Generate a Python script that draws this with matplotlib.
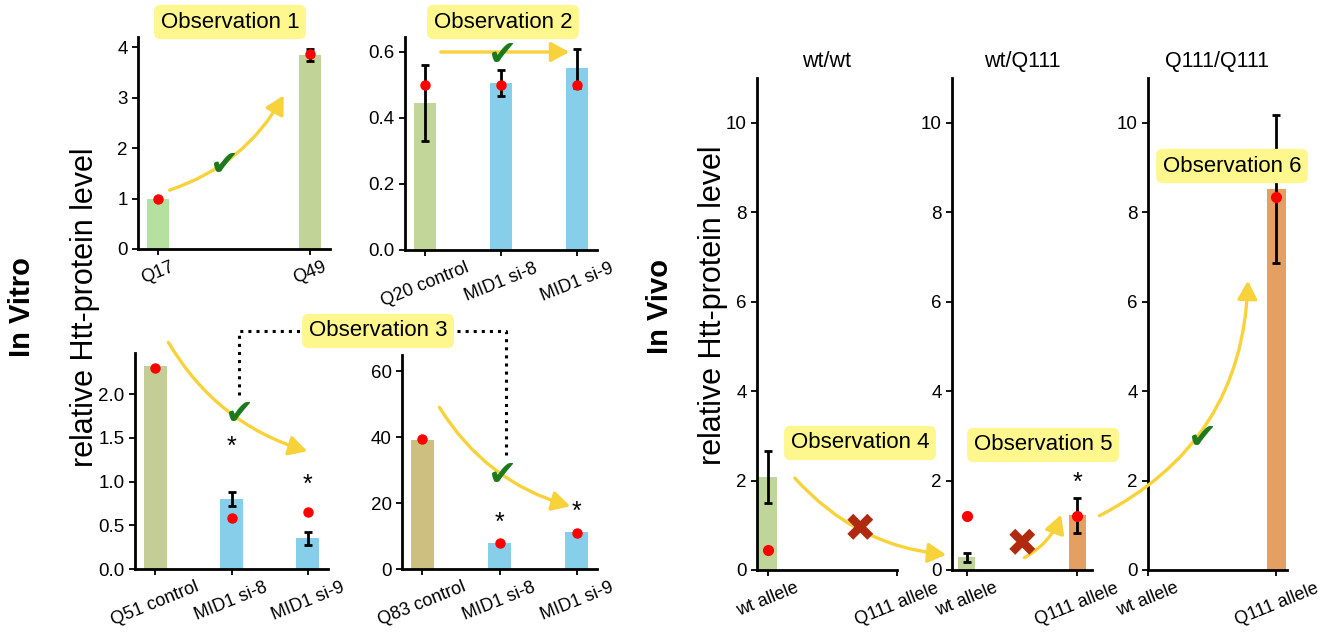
import matplotlib
matplotlib.use('Agg')
import matplotlib.pyplot as plt
from matplotlib.patches import FancyArrowPatch
from matplotlib.lines import Line2D

plt.rcParams['font.family'] = ['Liberation Sans', 'DejaVu Sans']

# in vitro data
obs1_labels = ['Q17', 'Q49']
obs1_means = [1.0, 3.85]
obs1_err = [0, 0.12]
obs1_dots = [1.0, 3.87]
obs1_colors = ['#b5e0a0', '#c2d398']

obs2_labels = ['Q20 control', 'MID1 si-8', 'MID1 si-9']
obs2_means = [0.445, 0.505, 0.55]
obs2_err = [0.115, 0.04, 0.06]
obs2_dots = [0.5, 0.5, 0.5]
obs2_colors = ['#c2d69a', '#87ceeb', '#87ceeb']

q51_labels = ['Q51 control', 'MID1 si-8', 'MID1 si-9']
q51_means = [2.32, 0.80, 0.35]
q51_err = [0, 0.085, 0.07]
q51_dots = [2.3, 0.58, 0.65]
q51_stars = [None, 1.40, 0.96]
q51_colors = ['#c3cd95', '#87ceeb', '#87ceeb']

q83_labels = ['Q83 control', 'MID1 si-8', 'MID1 si-9']
q83_means = [39.2, 7.8, 11.2]
q83_err = [0, 0, 0]
q83_dots = [39.5, 8.0, 11.0]
q83_stars = [None, 14.0, 17.4]
q83_colors = ['#cdbf80', '#87ceeb', '#87ceeb']

# in vivo data
vivo_labels = ['wt allele', 'Q111 allele']
vivo_titles = ['wt/wt', 'wt/Q111', 'Q111/Q111']
vivo_means = [[2.08, 0], [0.28, 1.22], [0, 8.52]]
vivo_err = [[0.575, 0], [0.1, 0.4], [0, 1.66]]
vivo_dots = [[0.45, None], [1.2, 1.2], [None, 8.35]]
vivo_stars = [[None, None], [None, 1.95], [None, None]]
vivo_colors = ['#c0d59a', '#e3a062']

W, H = 1331, 633
fig = plt.figure(figsize=(W / 100, H / 100), dpi=100)


def add_box(l, r, t, b):
    return fig.add_axes([l / W, 1 - b / H, (r - l) / W, (b - t) / H])


def fp(x, y):
    return (x / W, 1 - y / H)


def panel(ax, labels, means, err, dots, colors, width, ylim, yticks, fmt,
          stars=None, fs=13.5, ms=6.5):
    x = list(range(len(labels)))
    for i in x:
        if means[i] > 0:
            ax.bar(i, means[i], width=width, color=colors[i], zorder=1)
        if err[i] > 0:
            ax.errorbar(i, means[i], yerr=err[i], fmt='none', ecolor='black',
                        elinewidth=2, capsize=3, capthick=2, zorder=2)
        if dots[i] is not None:
            ax.plot(i, dots[i], 'o', color='#ff0000', markersize=ms, zorder=3)
        if stars is not None and stars[i] is not None:
            ax.text(i, stars[i], '*', ha='center', va='center', fontsize=18)
    ax.set_xticks(x)
    ax.set_xticklabels(labels, rotation=22, fontsize=fs - 0.5)
    ax.set_ylim(*ylim)
    ax.set_yticks(yticks)
    ax.set_yticklabels([fmt.format(v) for v in yticks], fontsize=fs)
    ax.spines['top'].set_visible(False)
    ax.spines['right'].set_visible(False)
    ax.spines['left'].set_linewidth(2)
    ax.spines['bottom'].set_linewidth(2)
    ax.tick_params(width=1.3, length=4)
    ax.tick_params(axis='x', pad=3)


ax1 = add_box(138, 330, 37, 249)
panel(ax1, obs1_labels, obs1_means, obs1_err, obs1_dots, obs1_colors, 0.15,
      (0, 4.2), [0, 1, 2, 3, 4], '{:.0f}')
ax2 = add_box(405, 597, 37, 250)
panel(ax2, obs2_labels, obs2_means, obs2_err, obs2_dots, obs2_colors, 0.3,
      (0, 0.645), [0, 0.2, 0.4, 0.6], '{:.1f}')
ax3 = add_box(135, 328, 353, 569)
panel(ax3, q51_labels, q51_means, q51_err, q51_dots, q51_colors, 0.3,
      (0, 2.47), [0, 0.5, 1.0, 1.5, 2.0], '{:.1f}', stars=q51_stars)
ax4 = add_box(402, 597, 355, 569)
panel(ax4, q83_labels, q83_means, q83_err, q83_dots, q83_colors, 0.3,
      (0, 65), [0, 20, 40, 60], '{:.0f}', stars=q83_stars)

vivo_boxes = [(757, 897), (952, 1092), (1148, 1287)]
for k, (l, r) in enumerate(vivo_boxes):
    ax = add_box(l, r, 78, 570)
    cols = [vivo_colors[0], vivo_colors[1]]
    panel(ax, vivo_labels, vivo_means[k], vivo_err[k], vivo_dots[k], cols, 0.15,
          (0, 11), [0, 2, 4, 6, 8, 10], '{:.0f}', stars=vivo_stars[k],
          fs=13.5, ms=7)
    ax.set_title(vivo_titles[k], fontsize=15.5, pad=8)

# side labels
fig.text(*fp(22, 307), 'In Vitro', rotation=90, fontsize=21, fontweight='bold',
         ha='center', va='center')
fig.text(*fp(85, 307), 'relative Htt-protein level', rotation=90, fontsize=22,
         ha='center', va='center')
fig.text(*fp(660, 307), 'In Vivo', rotation=90, fontsize=21, fontweight='bold',
         ha='center', va='center')
fig.text(*fp(713, 305), 'relative Htt-protein level', rotation=90, fontsize=22,
         ha='center', va='center')

# observation labels
obs_pos = [(230, 22), (503, 22), (378, 331), (860, 443), (1043, 445), (1232, 166)]
for n, (x, y) in enumerate(obs_pos):
    fig.text(*fp(x, y), 'Observation %d' % (n + 1), fontsize=16, ha='center',
             va='center', zorder=6,
             bbox=dict(boxstyle='round,pad=0.3', facecolor='#fdf78e',
                       edgecolor='none'))

# dotted connectors for observation 3
for xs, ys in [([239, 239, 300], [395, 331, 331]),
               ([457, 506, 506], [331, 331, 455])]:
    fig.add_artist(Line2D([v / W for v in xs], [1 - v / H for v in ys],
                          color='black', linestyle=':', linewidth=2.2))

# yellow trend arrows
arrows = [((167, 191), (285, 93), 0.2),
          ((438, 52), (572, 52), 0.0),
          ((167, 340), (310, 452), 0.2),
          ((438, 405), (573, 507), 0.2),
          ((793, 476), (949, 555), 0.2),
          ((1022, 559), (1062, 512), 0.2),
          ((1097, 517), (1248, 278), 0.3)]
for a, b, rad in arrows:
    fig.add_artist(FancyArrowPatch(fp(*a), fp(*b), transform=fig.transFigure,
                                   connectionstyle='arc3,rad=%s' % rad,
                                   arrowstyle='-|>,head_length=11,head_width=6',
                                   color='#f8d23a', linewidth=2.4, zorder=4))

# check marks and crosses
for x, y in [(225, 165), (503, 55), (240, 414), (503, 475), (1203, 438)]:
    fig.text(*fp(x, y), '\u2714', family=['DejaVu Sans'], fontsize=25,
             color='#1c7a1c', ha='center', va='center', zorder=5)
for x, y in [(860, 530), (1022, 545)]:
    fig.text(*fp(x, y), '\u2716', family=['DejaVu Sans'], fontsize=28,
             color='#b02a10', ha='center', va='center', zorder=5)

fig.savefig('out.png', dpi=100)
